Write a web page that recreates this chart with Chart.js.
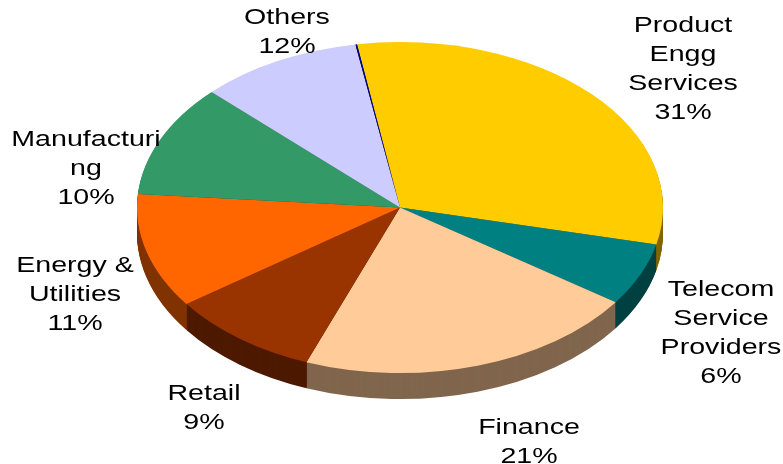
<!DOCTYPE html>
<html>
<head>
<meta charset="utf-8">
<style>html,body{margin:0;padding:0;background:#fff}canvas{display:block}</style>
<script src="https://cdn.jsdelivr.net/npm/chart.js@4"></script>
</head>
<body>
<canvas id="c" width="783" height="464"></canvas>
<script>
const categories = ['Product Engg Services','Telecom Service Providers','Finance','Retail','Energy & Utilities','Manufacturing','Others','(unlabelled sliver)'];
const sliceShares = [31.2,6.1,21.1,9.3,11.2,11.0,10.0,0.1];
const printedPercents = ['31%','6%','21%','9%','11%','10%','12%',''];
const wrappedNames = [['Product','Engg','Services'],['Telecom','Service','Providers'],['Finance'],['Retail'],['Energy &','Utilities'],['Manufacturi','ng'],['Others'],[]];
const sliceColors = ['#FFCC00','#008080','#FFCC99','#993300','#FF6600','#339966','#CCCCFF','#000080'];

/* layout, kept apart from the data */
const labelCentreX = [683,721,529,204,75,86,287,0];
const labelFirstBaseline = [32,296,434,400,272,146,24,0];
const lineGap = 29, textStretch = 1.3, fontPx = 22;
const squash = {cx:400, cy:207.5, sx:263/165.5};
const depth = 26;

function darken(hex){
  const n = parseInt(hex.slice(1),16);
  const c = [(n>>16)&255,(n>>8)&255,n&255].map(v=>Math.round(v*0.5));
  return `rgb(${c[0]},${c[1]},${c[2]})`;
}

const pie3d = {
  id:'pie3d',
  beforeDatasetsDraw(chart){
    const ctx = chart.ctx, arcs = chart.getDatasetMeta(0).data;
    ctx.save();
    ctx.translate(squash.cx,squash.cy);
    ctx.scale(squash.sx,1);
    ctx.translate(-squash.cx,-squash.cy);
    for(let d=depth;d>=1;d--){
      ctx.save();
      ctx.translate(0,d);
      arcs.forEach((arc,i)=>{
        const orig = arc.options;
        const o = Object.create(orig);
        o.backgroundColor = darken(sliceColors[i]);
        o.borderColor = o.backgroundColor;
        arc.options = o;
        arc.draw(ctx);
        arc.options = orig;
      });
      ctx.restore();
    }
  },
  afterDatasetsDraw(chart){
    chart.ctx.restore();
  },
  afterDraw(chart){
    const ctx = chart.ctx;
    ctx.save();
    ctx.fillStyle = '#000';
    ctx.textAlign = 'center';
    ctx.textBaseline = 'alphabetic';
    ctx.font = fontPx+'px "Liberation Sans"';
    wrappedNames.forEach((names,i)=>{
      const lines = names.concat(printedPercents[i] ? [printedPercents[i]] : []);
      lines.forEach((t,k)=>{
        ctx.save();
        ctx.translate(labelCentreX[i],labelFirstBaseline[i]+k*lineGap);
        ctx.scale(textStretch,1);
        ctx.fillText(t,0,0);
        ctx.restore();
      });
    });
    ctx.restore();
  }
};

new Chart(document.getElementById('c'),{
  type:'pie',
  data:{labels:categories,datasets:[{data:sliceShares,backgroundColor:sliceColors,borderWidth:0}]},
  options:{
    responsive:false,
    animation:false,
    rotation:-9.4,
    layout:{padding:{left:17,right:0,top:42,bottom:91}},
    plugins:{legend:{display:false},tooltip:{enabled:false}}
  },
  plugins:[pie3d]
});
</script>
</body>
</html>
